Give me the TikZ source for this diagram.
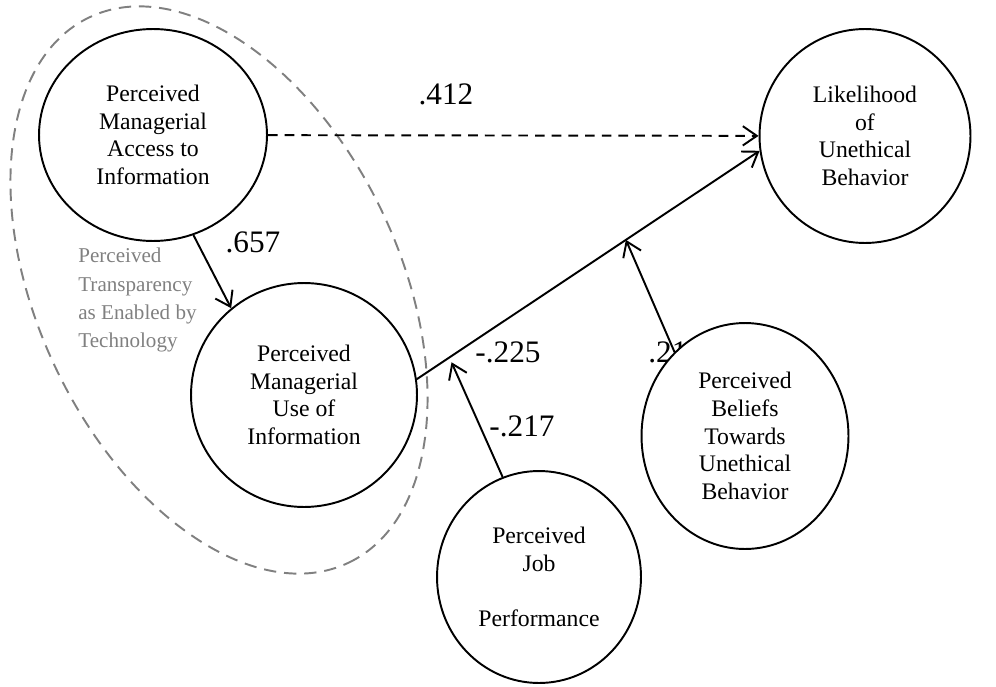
\documentclass[tikz,border=0pt]{standalone}
\usepackage{fontspec}
\setmainfont{Liberation Serif}
\usetikzlibrary{arrows.meta, calc, shapes.geometric}
\tikzset
{%
latent/.style={draw, ellipse, line width=1.1pt, fill=white, align=center, inner sep=0pt, font=\fontsize{13.5}{15.7}\selectfont},
coef/.style={inner sep=0pt, font=\fontsize{17.8}{20}\selectfont},
link/.style={-{Straight Barb[length=8pt, width=11pt]}, line width=1.1pt},
zone/.style={draw=black!50, ellipse, dash pattern=on 7pt off 4.5pt, line width=1.1pt, inner sep=0pt},
ztext/.style={anchor=north west, align=left, inner sep=0pt, text=black!50, font=\fontsize{12}{16}\selectfont}
}

\begin{document}
\begin{tikzpicture}[x=0.02cm, y=-0.02cm]
	\useasboundingbox (0,0) rectangle (996,686);

	%Transparency zone
	\node[zone, minimum width=12.08cm, minimum height=7.24cm, rotate=-64.6] (zone) at (219,290) {};
	\node[ztext] (zlabel) at (78,248) {Perceived\\Transparency\\as Enabled by\\Technology};

	%Coefficients
	\node[coef] (c412) at (446,94) {.412};
	\node[coef] (c657) at (253,242) {.657};
	\node[coef] (c225) at (508,352) {-.225};
	\node[coef] (c217) at (522,426) {-.217};
	\node[coef, anchor=west] (c21) at (648,352) {.21};

	%Constructs
	\node[latent, minimum width=4.56cm, minimum height=4.24cm] (access) at (153,135) {Perceived\\Managerial\\Access to\\Information};
	\node[latent, minimum width=4.52cm, minimum height=4.48cm] (use) at (304,395) {Perceived\\Managerial\\Use of\\Information};
	\node[latent, minimum width=4.22cm, minimum height=4.28cm] (like) at (865,136) {Likelihood\\of\\Unethical\\Behavior};
	\node[latent, minimum width=4.14cm, minimum height=4.52cm] (beliefs) at (745,436) {Perceived\\Beliefs\\Towards\\Unethical\\Behavior};
	\node[latent, minimum width=4.08cm, minimum height=4.24cm] (job) at (539,577) {Perceived\\Job\\~\\Performance};

	%Paths
	\coordinate (bhit) at ($(use.8)!0.61!(like.188)$);
	\coordinate (jhit) at ($(use.8)!0.095!(like.188)$);
	\path[link] (access.-68) edge (use.130)
		(use.8) edge (like.188)
		(beliefs.130) edge (bhit)
		(job.110) edge[shorten >=3pt] (jhit);
	\path[link, dash pattern=on 5.5pt off 4pt] (access) edge (like);
\end{tikzpicture}
\end{document}
